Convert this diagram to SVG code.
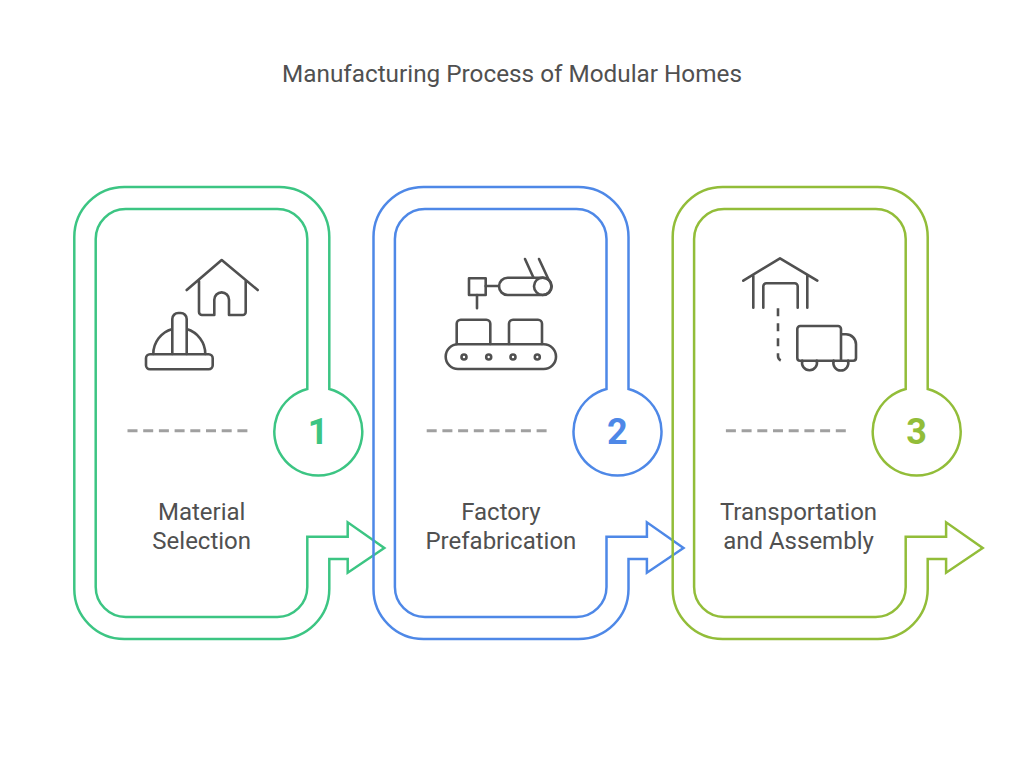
<svg xmlns="http://www.w3.org/2000/svg" width="1024" height="761" viewBox="0 0 1024 761">
<style>
text{font-family:Roboto,"Liberation Sans",sans-serif;fill:#505050;text-anchor:middle;font-size:24px}
.title{font-size:24.3px}
.num{font-weight:700;font-size:36px}
.band{fill:none;stroke-width:2.5;stroke-linejoin:miter}
.ic{fill:none;stroke:#505050;stroke-width:2.6;stroke-linecap:round;stroke-linejoin:round}
.dash{fill:none;stroke:#a0a0a0;stroke-width:3;stroke-dasharray:10 5.7}
.g{stroke:#3cc583}.b{stroke:#4e88e7}.l{stroke:#92bd39}
</style>
<defs>
<path id="band" d="M329.3 389V237a50 50 0 0 0-50-50H124.3a50 50 0 0 0-50 50V589a50 50 0 0 0 50 50H279.3a50 50 0 0 0 50-50V559H347.7V572.7L384.3 548 347.7 522.3V536.7H307.3V587a30 30 0 0 1-30 30H125.7a30 30 0 0 1-30-30V239a30 30 0 0 1 30-30H277.3a30 30 0 0 1 30 30V389A44 44 0 1 0 329.3 389Z"/>
</defs>
<text class="title" x="512" y="82">Manufacturing Process of Modular Homes</text>
<g id="connectors"></g>
<g id="node-1">
<use href="#band" class="band g"/>
<path class="dash" d="M127.500 430.700H247.500"/>
<text class="num" x="318" y="444" style="fill:#3cc583">1</text>
<text x="201.700" y="519.500">Material</text>
<text x="201.700" y="548.500">Selection</text>
<g class="ic">
<path d="M186.700 290L221.700 260 257.700 290M199 281V312a3 3 0 0 0 3 3H214.300V299.700a7.300 7.300 0 0 1 14.700 0V315H242.700a3 3 0 0 0 3-3V281"/>
<rect x="146" y="354.300" width="66.700" height="15" rx="4"/>
<path d="M172.300 354V319a6 6 0 0 1 6-6H180.700a6 6 0 0 1 6 6V354M153.300 354A26 26 0 0 1 172.300 329M186.700 329A26 26 0 0 1 205.300 354"/>
</g>
</g>
<g id="node-2">
<use href="#band" class="band b" transform="translate(299.2 0)"/>
<path class="dash" d="M426.700 430.700H546.700"/>
<text class="num" x="617.300" y="444" style="fill:#4e88e7">2</text>
<text x="500.900" y="519.500">Factory</text>
<text x="500.900" y="548.500">Prefabrication</text>
<g class="ic">
<rect x="445.700" y="344.300" width="110.300" height="24.700" rx="12.300"/>
<circle cx="464" cy="357" r="2.500"/><circle cx="488.700" cy="357" r="2.500"/><circle cx="513" cy="357" r="2.500"/><circle cx="537.300" cy="357" r="2.500"/>
<path d="M456.700 344V323.700a4 4 0 0 1 4-4H486.300a4 4 0 0 1 4 4V344M509 344V323.700a4 4 0 0 1 4-4H538a4 4 0 0 1 4 4V344"/>
<rect x="469" y="278.300" width="16.700" height="16.700"/>
<path d="M477 295V308.300M485.700 286H499"/>
<rect x="499" y="277.700" width="52.700" height="17.300" rx="8.700"/>
<circle cx="542.700" cy="286.300" r="8.700"/>
<path d="M525 259L533.300 277.300M539 259L548.300 279"/>
</g>
</g>
<g id="node-3">
<use href="#band" class="band l" transform="translate(598.4 0)"/>
<path class="dash" d="M725.900 430.700H845.900"/>
<text class="num" x="916.500" y="444" style="fill:#92bd39">3</text>
<text x="798.500" y="519.500">Transportation</text>
<text x="798.500" y="548.500">and Assembly</text>
<g class="ic">
<path d="M743.300 280.700L780 258.300 817.300 280.700M753.300 275.700V307.700M807.300 275.700V307.700M763.300 307.700V286.300a3 3 0 0 1 3-3H794.700a3 3 0 0 1 3 3V307.700"/>
<path d="M778 308.300V356a5 5 0 0 0 5.300 5" stroke-dasharray="8 7" stroke-linecap="butt"/>
<path d="M841 334.300H846a10 10 0 0 1 10 10V358a2.700 2.700 0 0 1-2.700 2.700H800a2.700 2.700 0 0 1-2.700-2.700V329a3 3 0 0 1 3-3H838a3 3 0 0 1 3 3V360.700"/>
<path d="M802.300 360.700A7.500 7.500 0 1 0 816.700 360.700M833.700 360.700A7.500 7.500 0 1 0 848 360.700"/>
</g>
</g>
</svg>
